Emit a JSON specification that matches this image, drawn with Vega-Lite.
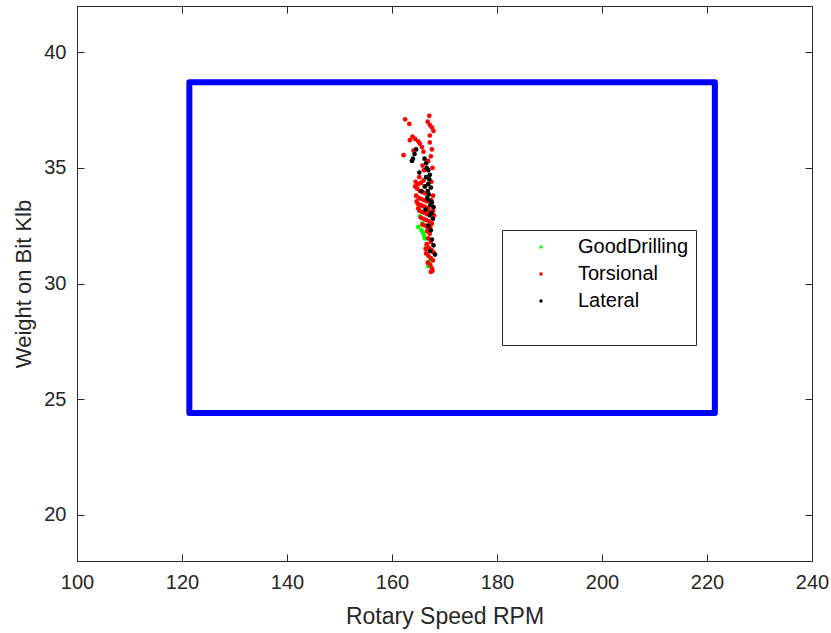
{
  "$schema": "https://vega.github.io/schema/vega-lite/v6.json",
  "width": 735,
  "height": 555,
  "autosize": "none",
  "padding": {"left": 77, "top": 6, "right": 19, "bottom": 72},
  "background": "white",
  "config": {
    "view": {"stroke": "#262626", "strokeWidth": 1},
    "font": "Liberation Sans",
    "axis": {
      "grid": false,
      "domain": false,
      "tickColor": "#262626",
      "tickSize": -7,
      "labelColor": "#262626",
      "labelFontSize": 20,
      "labelFlush": false,
      "titleColor": "#262626",
      "titleFontSize": 22,
      "titleFontWeight": "normal"
    }
  },
  "datasets": {
    "box": [{"x1": 121.4, "x2": 221.5, "y1": 24.4, "y2": 38.7}],
    "pts": [
      {"rpm": 165.3, "wob": 32.9, "cls": "GoodDrilling"},
      {"rpm": 165.0, "wob": 32.45, "cls": "GoodDrilling"},
      {"rpm": 165.6, "wob": 32.3, "cls": "GoodDrilling"},
      {"rpm": 165.9, "wob": 32.2, "cls": "GoodDrilling"},
      {"rpm": 166.1, "wob": 32.05, "cls": "GoodDrilling"},
      {"rpm": 166.3, "wob": 31.95, "cls": "GoodDrilling"},
      {"rpm": 166.6, "wob": 31.6, "cls": "GoodDrilling"},
      {"rpm": 166.8, "wob": 31.5, "cls": "GoodDrilling"},
      {"rpm": 167.1, "wob": 30.9, "cls": "GoodDrilling"},
      {"rpm": 166.9, "wob": 30.75, "cls": "GoodDrilling"},
      {"rpm": 167.2, "wob": 31.0, "cls": "GoodDrilling"},
      {"rpm": 165.8, "wob": 32.6, "cls": "GoodDrilling"},
      {"rpm": 162.5, "wob": 37.1, "cls": "Torsional"},
      {"rpm": 163.3, "wob": 36.9, "cls": "Torsional"},
      {"rpm": 167.1, "wob": 37.25, "cls": "Torsional"},
      {"rpm": 166.8, "wob": 37.0, "cls": "Torsional"},
      {"rpm": 167.2, "wob": 36.85, "cls": "Torsional"},
      {"rpm": 167.6, "wob": 36.75, "cls": "Torsional"},
      {"rpm": 167.9, "wob": 36.6, "cls": "Torsional"},
      {"rpm": 163.9, "wob": 36.35, "cls": "Torsional"},
      {"rpm": 164.4, "wob": 36.25, "cls": "Torsional"},
      {"rpm": 165.0, "wob": 36.15, "cls": "Torsional"},
      {"rpm": 163.4, "wob": 36.2, "cls": "Torsional"},
      {"rpm": 165.3, "wob": 36.05, "cls": "Torsional"},
      {"rpm": 165.7, "wob": 35.9, "cls": "Torsional"},
      {"rpm": 167.2, "wob": 36.4, "cls": "Torsional"},
      {"rpm": 167.2, "wob": 36.1, "cls": "Torsional"},
      {"rpm": 167.6, "wob": 35.8, "cls": "Torsional"},
      {"rpm": 162.2, "wob": 35.55, "cls": "Torsional"},
      {"rpm": 164.1, "wob": 35.75, "cls": "Torsional"},
      {"rpm": 166.0, "wob": 35.7, "cls": "Torsional"},
      {"rpm": 167.4, "wob": 35.5, "cls": "Torsional"},
      {"rpm": 166.9, "wob": 35.3, "cls": "Torsional"},
      {"rpm": 165.8, "wob": 35.1, "cls": "Torsional"},
      {"rpm": 167.7, "wob": 35.0, "cls": "Torsional"},
      {"rpm": 165.2, "wob": 34.6, "cls": "Torsional"},
      {"rpm": 166.1, "wob": 34.9, "cls": "Torsional"},
      {"rpm": 167.5, "wob": 34.4, "cls": "Torsional"},
      {"rpm": 164.5, "wob": 34.4, "cls": "Torsional"},
      {"rpm": 165.0, "wob": 34.3, "cls": "Torsional"},
      {"rpm": 165.5, "wob": 34.35, "cls": "Torsional"},
      {"rpm": 166.0, "wob": 34.45, "cls": "Torsional"},
      {"rpm": 164.8, "wob": 34.1, "cls": "Torsional"},
      {"rpm": 165.3, "wob": 34.0, "cls": "Torsional"},
      {"rpm": 165.8, "wob": 33.95, "cls": "Torsional"},
      {"rpm": 166.3, "wob": 33.9, "cls": "Torsional"},
      {"rpm": 164.6, "wob": 33.8, "cls": "Torsional"},
      {"rpm": 165.1, "wob": 33.7, "cls": "Torsional"},
      {"rpm": 165.6, "wob": 33.65, "cls": "Torsional"},
      {"rpm": 166.1, "wob": 33.6, "cls": "Torsional"},
      {"rpm": 166.6, "wob": 33.55, "cls": "Torsional"},
      {"rpm": 164.9, "wob": 33.45, "cls": "Torsional"},
      {"rpm": 165.4, "wob": 33.4, "cls": "Torsional"},
      {"rpm": 165.9, "wob": 33.35, "cls": "Torsional"},
      {"rpm": 166.4, "wob": 33.3, "cls": "Torsional"},
      {"rpm": 166.9, "wob": 33.25, "cls": "Torsional"},
      {"rpm": 165.2, "wob": 33.15, "cls": "Torsional"},
      {"rpm": 165.7, "wob": 33.1, "cls": "Torsional"},
      {"rpm": 166.2, "wob": 33.05, "cls": "Torsional"},
      {"rpm": 166.7, "wob": 33.0, "cls": "Torsional"},
      {"rpm": 167.1, "wob": 33.1, "cls": "Torsional"},
      {"rpm": 165.5, "wob": 32.85, "cls": "Torsional"},
      {"rpm": 166.0, "wob": 32.8, "cls": "Torsional"},
      {"rpm": 166.5, "wob": 32.75, "cls": "Torsional"},
      {"rpm": 167.0, "wob": 32.7, "cls": "Torsional"},
      {"rpm": 167.6, "wob": 32.6, "cls": "Torsional"},
      {"rpm": 165.8, "wob": 32.55, "cls": "Torsional"},
      {"rpm": 166.3, "wob": 32.5, "cls": "Torsional"},
      {"rpm": 166.8, "wob": 32.4, "cls": "Torsional"},
      {"rpm": 167.3, "wob": 32.45, "cls": "Torsional"},
      {"rpm": 164.4, "wob": 34.2, "cls": "Torsional"},
      {"rpm": 164.7, "wob": 33.55, "cls": "Torsional"},
      {"rpm": 165.0, "wob": 33.25, "cls": "Torsional"},
      {"rpm": 167.8, "wob": 33.15, "cls": "Torsional"},
      {"rpm": 168.0, "wob": 32.95, "cls": "Torsional"},
      {"rpm": 167.5, "wob": 33.6, "cls": "Torsional"},
      {"rpm": 167.8, "wob": 33.8, "cls": "Torsional"},
      {"rpm": 166.2, "wob": 34.2, "cls": "Torsional"},
      {"rpm": 166.7, "wob": 32.25, "cls": "Torsional"},
      {"rpm": 167.2, "wob": 32.15, "cls": "Torsional"},
      {"rpm": 166.9, "wob": 31.95, "cls": "Torsional"},
      {"rpm": 167.4, "wob": 31.8, "cls": "Torsional"},
      {"rpm": 166.6, "wob": 31.7, "cls": "Torsional"},
      {"rpm": 167.0, "wob": 31.55, "cls": "Torsional"},
      {"rpm": 167.5, "wob": 31.45, "cls": "Torsional"},
      {"rpm": 166.5, "wob": 31.3, "cls": "Torsional"},
      {"rpm": 166.9, "wob": 31.2, "cls": "Torsional"},
      {"rpm": 167.4, "wob": 31.1, "cls": "Torsional"},
      {"rpm": 167.8, "wob": 31.0, "cls": "Torsional"},
      {"rpm": 166.8, "wob": 30.9, "cls": "Torsional"},
      {"rpm": 167.3, "wob": 30.8, "cls": "Torsional"},
      {"rpm": 167.6, "wob": 30.65, "cls": "Torsional"},
      {"rpm": 167.4, "wob": 30.5, "cls": "Torsional"},
      {"rpm": 167.7, "wob": 30.55, "cls": "Torsional"},
      {"rpm": 166.4, "wob": 31.5, "cls": "Torsional"},
      {"rpm": 167.9, "wob": 31.35, "cls": "Torsional"},
      {"rpm": 164.6, "wob": 35.8, "cls": "Lateral"},
      {"rpm": 164.3, "wob": 35.6, "cls": "Lateral"},
      {"rpm": 163.8, "wob": 35.3, "cls": "Lateral"},
      {"rpm": 164.0, "wob": 35.4, "cls": "Lateral"},
      {"rpm": 166.2, "wob": 35.4, "cls": "Lateral"},
      {"rpm": 166.5, "wob": 35.2, "cls": "Lateral"},
      {"rpm": 166.6, "wob": 35.0, "cls": "Lateral"},
      {"rpm": 166.9, "wob": 34.9, "cls": "Lateral"},
      {"rpm": 167.2, "wob": 34.7, "cls": "Lateral"},
      {"rpm": 165.2, "wob": 34.8, "cls": "Lateral"},
      {"rpm": 167.1, "wob": 34.5, "cls": "Lateral"},
      {"rpm": 166.3, "wob": 34.2, "cls": "Lateral"},
      {"rpm": 167.4, "wob": 34.15, "cls": "Lateral"},
      {"rpm": 166.8, "wob": 34.0, "cls": "Lateral"},
      {"rpm": 167.0, "wob": 33.85, "cls": "Lateral"},
      {"rpm": 167.1, "wob": 33.6, "cls": "Lateral"},
      {"rpm": 167.6, "wob": 33.5, "cls": "Lateral"},
      {"rpm": 167.9, "wob": 33.3, "cls": "Lateral"},
      {"rpm": 167.3, "wob": 33.4, "cls": "Lateral"},
      {"rpm": 166.7, "wob": 33.7, "cls": "Lateral"},
      {"rpm": 167.2, "wob": 32.95, "cls": "Lateral"},
      {"rpm": 167.5, "wob": 33.05, "cls": "Lateral"},
      {"rpm": 166.9, "wob": 32.5, "cls": "Lateral"},
      {"rpm": 167.4, "wob": 32.3, "cls": "Lateral"},
      {"rpm": 167.9, "wob": 31.65, "cls": "Lateral"},
      {"rpm": 168.2, "wob": 31.25, "cls": "Lateral"},
      {"rpm": 167.6, "wob": 31.9, "cls": "Lateral"},
      {"rpm": 166.5, "wob": 34.6, "cls": "Lateral"},
      {"rpm": 166.9, "wob": 34.3, "cls": "Lateral"},
      {"rpm": 165.6, "wob": 34.0, "cls": "Lateral"},
      {"rpm": 167.8, "wob": 32.8, "cls": "Lateral"},
      {"rpm": 166.4, "wob": 33.2, "cls": "Lateral"},
      {"rpm": 167.3, "wob": 31.4, "cls": "Lateral"}
    ]
  },
  "layer": [
    {
      "data": {"name": "box"},
      "mark": {"type": "rect", "filled": false, "stroke": "#0000ff", "strokeWidth": 6, "strokeJoin": "round"},
      "encoding": {
        "x": {
          "field": "x1", "type": "quantitative",
          "scale": {"domain": [100, 240], "nice": false, "zero": false},
          "axis": {"orient": "bottom", "values": [100, 120, 140, 160, 180, 200, 220, 240], "labelPadding": 18, "title": "Rotary Speed RPM", "titleFontSize": 23, "titlePadding": 13}
        },
        "x2": {"field": "x2"},
        "y": {
          "field": "y1", "type": "quantitative",
          "scale": {"domain": [18, 42], "nice": false, "zero": false},
          "axis": {"orient": "left", "values": [20, 25, 30, 35, 40], "labelPadding": 18, "title": "Weight on Bit Klb", "titleFontSize": 22, "titlePadding": 8}
        },
        "y2": {"field": "y2"}
      }
    },
    {
      "data": {"name": "pts"},
      "mark": {"type": "circle", "size": 22, "opacity": 1},
      "encoding": {
        "x": {
          "field": "rpm", "type": "quantitative",
          "scale": {"domain": [100, 240], "nice": false, "zero": false},
          "axis": {"orient": "top", "values": [100, 120, 140, 160, 180, 200, 220, 240], "labels": false, "title": null}
        },
        "y": {
          "field": "wob", "type": "quantitative",
          "scale": {"domain": [18, 42], "nice": false, "zero": false},
          "axis": {"orient": "right", "values": [20, 25, 30, 35, 40], "labels": false, "title": null}
        },
        "color": {
          "field": "cls", "type": "nominal",
          "scale": {"domain": ["GoodDrilling", "Torsional", "Lateral", " "], "range": ["#00ff00", "#ff0000", "#000000", "rgba(0,0,0,0)"]},
          "legend": {
            "title": null,
            "orient": "none",
            "legendX": 425,
            "legendY": 224,
            "fillColor": "white",
            "strokeColor": "#262626",
            "padding": 7,
            "symbolType": "circle",
            "symbolSize": 12,
            "symbolOffset": 22,
            "labelOffset": 27,
            "labelFontSize": 20,
            "labelColor": "#000000",
            "rowPadding": 7,
            "labelLimit": 300
          }
        }
      }
    }
  ],
  "resolve": {"axis": {"x": "independent", "y": "independent"}}
}
